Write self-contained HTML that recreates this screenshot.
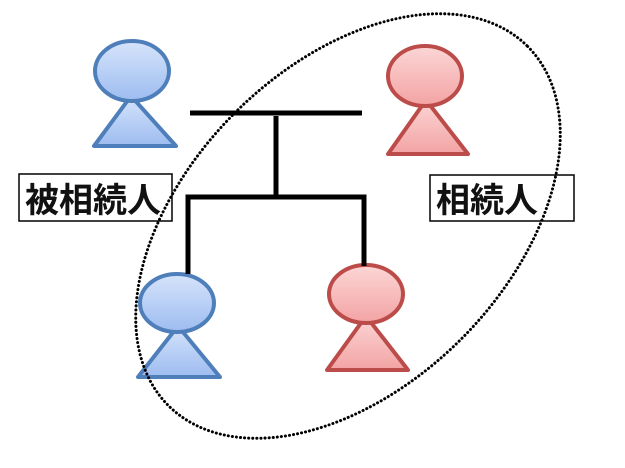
<!DOCTYPE html>
<html><head><meta charset="utf-8"><style>
html,body{margin:0;padding:0;background:#fff;width:625px;height:468px;overflow:hidden;}
svg{display:block;}
text{font-family:"Liberation Sans","Noto Sans CJK JP",sans-serif;font-weight:bold;}
</style></head><body>
<svg width="625" height="468" viewBox="0 0 625 468" xmlns="http://www.w3.org/2000/svg">
<defs>
<linearGradient id="gb" x1="0" y1="0" x2="0" y2="1"><stop offset="0" stop-color="#d6e4fb"/><stop offset="1" stop-color="#9dbcf0"/></linearGradient>
<linearGradient id="gr" x1="0" y1="0" x2="0" y2="1"><stop offset="0" stop-color="#fcd6d6"/><stop offset="1" stop-color="#f3a3a3"/></linearGradient>
</defs>
<g stroke-width="4" stroke-linejoin="round">
<polygon points="131,96 94,146 176,146" fill="url(#gb)" stroke="#4f7fba"/>
<ellipse cx="132" cy="71" rx="37" ry="30" fill="url(#gb)" stroke="#4f7fba"/>
<polygon points="426,100 388,154 468,154" fill="url(#gr)" stroke="#bb4c4a"/>
<ellipse cx="425" cy="76" rx="37" ry="30" fill="url(#gr)" stroke="#bb4c4a"/>
<polygon points="178,326 138,377 220,377" fill="url(#gb)" stroke="#4f7fba"/>
<ellipse cx="177" cy="303" rx="37" ry="29" fill="url(#gb)" stroke="#4f7fba"/>
<polygon points="366,316 327,370 408,370" fill="url(#gr)" stroke="#bb4c4a"/>
<ellipse cx="366" cy="294" rx="37" ry="29" fill="url(#gr)" stroke="#bb4c4a"/>
</g>
<g stroke="#000" stroke-width="5" fill="none">
<line x1="190" y1="113" x2="362" y2="113"/>
<line x1="276" y1="116" x2="276" y2="197"/>
<polyline points="188,274 188,197 364,197 364,266"/>
</g>
<rect x="19" y="174" width="153" height="47" fill="#fff" stroke="#000" stroke-width="1.5"/>
<text x="25" y="212" font-size="34" fill="#111">被相続人</text>
<rect x="430" y="175" width="144" height="46" fill="#fff" stroke="#000" stroke-width="1.5"/>
<text x="436" y="212" font-size="34" fill="#111">相続人</text>
<ellipse cx="348" cy="226" rx="254" ry="160" transform="rotate(-45 348 226)" fill="none" stroke="#000" stroke-width="3" stroke-dasharray="0.1 4" stroke-linecap="round"/>
</svg>
</body></html>
